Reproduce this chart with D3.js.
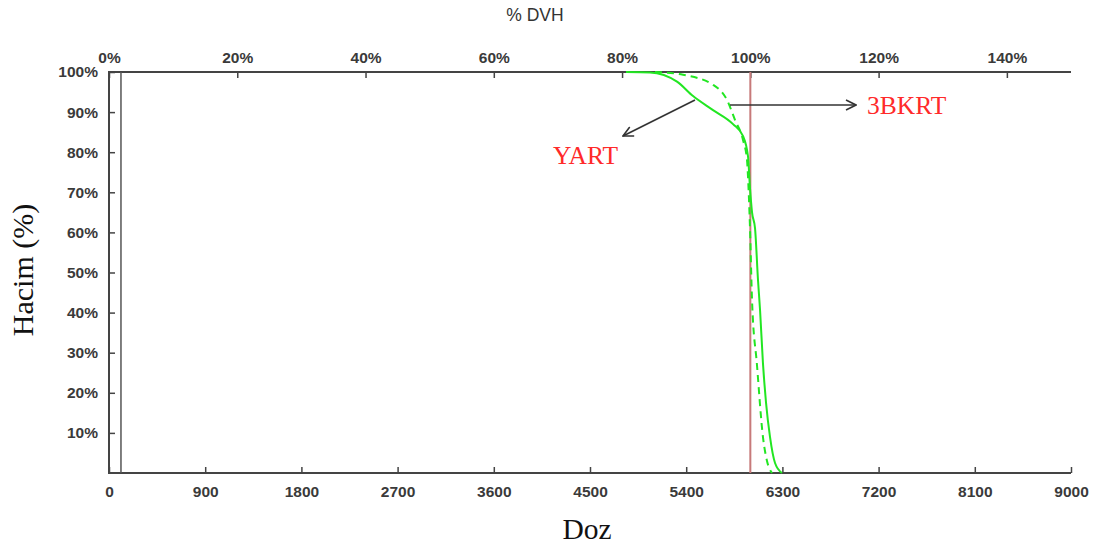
<!DOCTYPE html>
<html>
<head>
<meta charset="utf-8">
<script src="https://cdn.jsdelivr.net/npm/d3@7"></script>
<style>
  body { margin: 0; background: #fff; }
  .tick text { font-family: "Liberation Sans", Arial, sans-serif; font-weight: bold; font-size: 15.5px; fill: #3a3a3a; }
  .tick line { stroke: #444; stroke-width: 1.5; }
</style>
</head>
<body>
<div id="chart"></div>
<script>
// dose ticks (cGy) and relative dose ticks (%)
const doseTicks = [0, 900, 1800, 2700, 3600, 4500, 5400, 6300, 7200, 8100, 9000];
const pctTicks = [0, 20, 40, 60, 80, 100, 120, 140];
const volTicks = [10, 20, 30, 40, 50, 60, 70, 80, 90, 100];

// YART (solid) cumulative DVH: dose, volume %
const yartDose = [4837, 5061, 5314, 5464, 5651, 5838, 5932, 5978, 5997, 6016, 6044, 6072, 6091, 6118, 6147, 6184, 6231, 6296];
const yartVol  = [100, 99.9, 97.6, 94, 90.5, 87, 84, 79, 71, 65, 61, 48, 40.6, 27.4, 17.5, 9, 2.5, 0];
// 3BKRT (dashed)
const bkrtDose = [5108, 5370, 5651, 5782, 5857, 5932, 5969, 5978, 5997, 6016, 6062, 6118, 6156, 6203];
const bkrtVol  = [100, 99.3, 96.8, 93, 88, 83, 78, 74, 61, 43, 27, 9, 3, 0];

const prescription = 6000;  // 100% reference dose
const refDose = 112;        // extra thin line near the y axis

const W = 1101, H = 545;
const plotL = 109, plotR = 1071, plotT = 72, plotB = 473;

const x = d3.scaleLinear().domain([0, 9000]).range([plotL, plotR]);
const xPct = d3.scaleLinear().domain([0, 150]).range([plotL, plotR]);
const y = d3.scaleLinear().domain([0, 100]).range([plotB, plotT]);

const svg = d3.select("#chart").append("svg")
    .attr("width", W).attr("height", H);

// axes with inward ticks
svg.append("g")
    .attr("transform", "translate(0," + plotB + ")")
    .call(d3.axisBottom(x).tickValues(doseTicks).tickSize(-6).tickPadding(13)
        .tickFormat(d3.format("d")))
    .call(g => g.select(".domain").remove());
svg.append("g")
    .attr("transform", "translate(0," + plotT + ")")
    .call(d3.axisTop(xPct).tickValues(pctTicks).tickSize(-6).tickPadding(9)
        .tickFormat(d => d + "%"))
    .call(g => g.select(".domain").remove());
svg.append("g")
    .attr("transform", "translate(" + plotL + ",0)")
    .call(d3.axisLeft(y).tickValues(volTicks).tickSize(-6).tickPadding(11)
        .tickFormat(d => d + "%"))
    .call(g => g.select(".domain").remove());

// frame: left, top, bottom
svg.append("path")
    .attr("d", "M" + plotR + "," + plotT + "H" + plotL + "V" + plotB + "H" + plotR)
    .attr("fill", "none").attr("stroke", "#444").attr("stroke-width", 2);
svg.append("line")
    .attr("x1", x(refDose)).attr("x2", x(refDose))
    .attr("y1", plotT).attr("y2", plotB)
    .attr("stroke", "#555").attr("stroke-width", 1.5);

// prescription line
svg.append("line")
    .attr("x1", x(prescription)).attr("x2", x(prescription))
    .attr("y1", plotT).attr("y2", plotB)
    .attr("stroke", "#c77a7a").attr("stroke-width", 2);

const line = d3.line()
    .x(d => x(d[0])).y(d => y(d[1]))
    .curve(d3.curveMonotoneX);

svg.append("path")
    .datum(d3.zip(bkrtDose, bkrtVol))
    .attr("d", line)
    .attr("fill", "none").attr("stroke", "#22e622").attr("stroke-width", 2)
    .attr("stroke-dasharray", "7,5");
svg.append("path")
    .datum(d3.zip(yartDose, yartVol))
    .attr("d", line)
    .attr("fill", "none").attr("stroke", "#22e622").attr("stroke-width", 2);

// arrows
svg.append("defs").append("marker")
    .attr("id", "arr").attr("viewBox", "0 0 12 12")
    .attr("refX", 11).attr("refY", 6)
    .attr("markerWidth", 12).attr("markerHeight", 12)
    .attr("markerUnits", "userSpaceOnUse")
    .attr("orient", "auto")
  .append("path")
    .attr("d", "M1,1 L11,6 L1,11")
    .attr("fill", "none").attr("stroke", "#333").attr("stroke-width", 1.6);

svg.append("line")
    .attr("x1", 695).attr("y1", 100).attr("x2", 623).attr("y2", 136)
    .attr("stroke", "#333").attr("stroke-width", 1.6).attr("marker-end", "url(#arr)");
svg.append("line")
    .attr("x1", 730).attr("y1", 105).attr("x2", 856).attr("y2", 105)
    .attr("stroke", "#333").attr("stroke-width", 1.6).attr("marker-end", "url(#arr)");

svg.append("text")
    .attr("x", 553).attr("y", 164)
    .attr("font-family", "Liberation Serif, Times New Roman, serif")
    .attr("font-size", 25.5).attr("fill", "#ff2a2a")
    .text("YART");
svg.append("text")
    .attr("x", 867).attr("y", 114)
    .attr("font-family", "Liberation Serif, Times New Roman, serif")
    .attr("font-size", 25.5).attr("fill", "#ff2a2a")
    .text("3BKRT");

// titles
svg.append("text")
    .attr("x", 535).attr("y", 21).attr("text-anchor", "middle")
    .attr("font-family", "Liberation Sans, Arial, sans-serif")
    .attr("font-size", 17.5).attr("fill", "#333")
    .text("% DVH");
svg.append("text")
    .attr("x", 587).attr("y", 539).attr("text-anchor", "middle")
    .attr("font-family", "Liberation Serif, Times New Roman, serif")
    .attr("font-size", 29.5).attr("fill", "#111")
    .text("Doz");
svg.append("text")
    .attr("transform", "translate(33,270) rotate(-90)").attr("text-anchor", "middle")
    .attr("font-family", "Liberation Serif, Times New Roman, serif")
    .attr("font-size", 30).attr("fill", "#111")
    .text("Hacim (%)");
</script>
</body>
</html>
